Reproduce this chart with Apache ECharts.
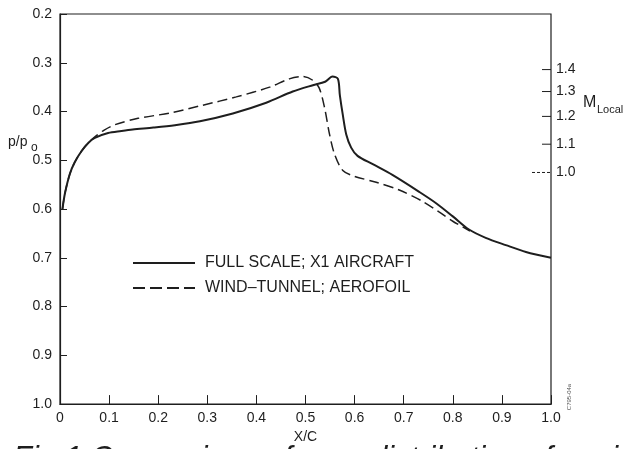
<!DOCTYPE html>
<html><head><meta charset="utf-8">
<script src="https://cdn.jsdelivr.net/npm/echarts@6/dist/echarts.min.js"></script>
<style>html,body{margin:0;padding:0;background:#fff}#c{width:633px;height:449px}</style>
</head><body><div id="c"></div>
<script>
// x/c positions and p/p0 values
var fullX = [0.005,0.010,0.020,0.030,0.044,0.058,0.071,0.098,0.125,0.148,0.190,0.234,0.285,0.352,0.420,0.474,0.515,0.540,0.555,0.566,0.570,0.576,0.583,0.593,0.606,0.637,0.677,0.732,0.766,0.800,0.833,0.867,0.908,0.949,1.000];
var fullP = [0.600,0.568,0.528,0.504,0.481,0.464,0.454,0.444,0.440,0.437,0.433,0.428,0.420,0.404,0.382,0.359,0.346,0.339,0.328,0.333,0.367,0.407,0.447,0.474,0.491,0.508,0.530,0.565,0.588,0.615,0.642,0.659,0.674,0.688,0.700];
var tunnelX = [0.005,0.010,0.020,0.030,0.044,0.058,0.071,0.090,0.112,0.159,0.224,0.291,0.359,0.427,0.467,0.495,0.515,0.528,0.539,0.549,0.559,0.576,0.600,0.644,0.691,0.738,0.772,0.800,0.835];
var tunnelP = [0.600,0.568,0.528,0.504,0.481,0.464,0.452,0.438,0.427,0.414,0.403,0.387,0.370,0.350,0.333,0.328,0.336,0.352,0.393,0.447,0.487,0.521,0.533,0.545,0.561,0.584,0.606,0.625,0.645];
var seriesNames = ['FULL SCALE; X1 AIRCRAFT', 'WIND\u2013TUNNEL; AEROFOIL'];
var machLabels = ['1.4','1.3','1.2','1.1','1.0'];
var machPos = [0.314,0.359,0.410,0.467,0.525];

var FONT = '"Liberation Sans", Arial, Helvetica, sans-serif';
var INK = '#1e1e1e';
function pairs(xs, ys){ return xs.map(function(x,i){ return [x, ys[i]]; }); }

var chart = echarts.init(document.getElementById('c'), null, {renderer:'canvas'});
var option = {
  backgroundColor:'#fff',
  animation:false,
  grid:{left:60, right:82, top:14, bottom:38, show:true, borderColor:INK, borderWidth:1.2, backgroundColor:'transparent'},
  legend:{
    show:true, orient:'vertical', left:133, top:255, right:'auto', bottom:'auto', padding:0,
    itemWidth:62, itemHeight:2, itemGap:9,
    data:[
      {name:seriesNames[0], icon:'path://M0,0H62V2H0Z'},
      {name:seriesNames[1], icon:'path://M0,0H12V2H0Z M17,0H29V2H17Z M34,0H46V2H34Z M51,0H62V2H51Z'}
    ],
    itemStyle:{color:INK, borderWidth:0},
    textStyle:{fontFamily:FONT, fontSize:16, color:INK, padding:[0,0,0,5], lineHeight:16},
    selectedMode:false
  },
  xAxis:{
    type:'value', min:0, max:1, interval:0.1,
    name:'X/C', nameLocation:'middle', nameGap:23,
    nameTextStyle:{fontFamily:FONT, fontSize:14, color:INK},
    axisLine:{lineStyle:{color:INK, width:1.2}},
    axisTick:{inside:true, length:9, lineStyle:{color:INK, width:1}},
    splitLine:{show:false},
    axisLabel:{fontFamily:FONT, fontSize:14, color:INK, margin:7,
      formatter:function(v){ var r=Math.round(v*10)/10; return r===0?'0':r.toFixed(1); }}
  },
  yAxis:{
    type:'value', inverse:true, min:0.2, max:1.0, interval:0.1,
    axisLine:{show:true, lineStyle:{color:INK, width:1.2}},
    axisTick:{show:true, inside:true, length:7, lineStyle:{color:INK, width:1}},
    splitLine:{show:false},
    axisLabel:{fontFamily:FONT, fontSize:14, color:INK, margin:8,
      formatter:function(v){ return (Math.round(v*10)/10).toFixed(1); }}
  },
  series:[
    {name:seriesNames[0], type:'line', data:pairs(fullX, fullP), symbol:'none', smooth:0.3,
     lineStyle:{color:INK, width:2}, itemStyle:{color:INK}, z:3},
    {name:seriesNames[1], type:'line', data:pairs(tunnelX, tunnelP), symbol:'none', smooth:0.3,
     lineStyle:{color:INK, width:1.5, type:[10,5]}, itemStyle:{color:INK}, z:2},
    {type:'custom', silent:true, z:4,
     data:machPos.map(function(p,i){ return [1.0, p, i]; }),
     renderItem:function(params, api){
       var pt = api.coord([api.value(0), api.value(1)]);
       var i = api.value(2);
       var dashed = machLabels[i] === '1.0';
       return {type:'group', children:[
         {type:'line', shape:{x1:pt[0]-(dashed?19:9), y1:pt[1], x2:pt[0], y2:pt[1]},
          style:{stroke:INK, lineWidth:1, lineDash:dashed?[3,2]:null}},
         {type:'text', x:pt[0]+5, y:pt[1],
          style:{text:machLabels[i], font:'14px '+FONT, fill:INK, verticalAlign:'middle', align:'left'}}
       ]};
     }}
  ],
  graphic:[
    {type:'text', left:8, top:135, style:{text:'p/p', font:'14px '+FONT, fill:INK}},
    {type:'text', left:31, top:142, style:{text:'o', font:'12px '+FONT, fill:INK}},
    {type:'text', left:583, top:95, style:{text:'M', font:'16px '+FONT, fill:INK}},
    {type:'text', left:597, top:104, style:{text:'Local', font:'11px '+FONT, fill:INK}},
    {type:'text', x:569, y:397, rotation:Math.PI/2, style:{text:'C795-04a', font:'6px '+FONT, fill:'#555', align:'center', verticalAlign:'middle'}},
    {type:'text', x:13, y:444, style:{text:'Fig.1 Comparison of', font:'italic 31px '+FONT, fill:INK, verticalAlign:'top'}},
    {type:'text', x:370, y:444, style:{text:'distributions for wind', font:'italic 31px '+FONT, fill:INK, verticalAlign:'top'}}
  ]
};
chart.setOption(option);
</script></body></html>
